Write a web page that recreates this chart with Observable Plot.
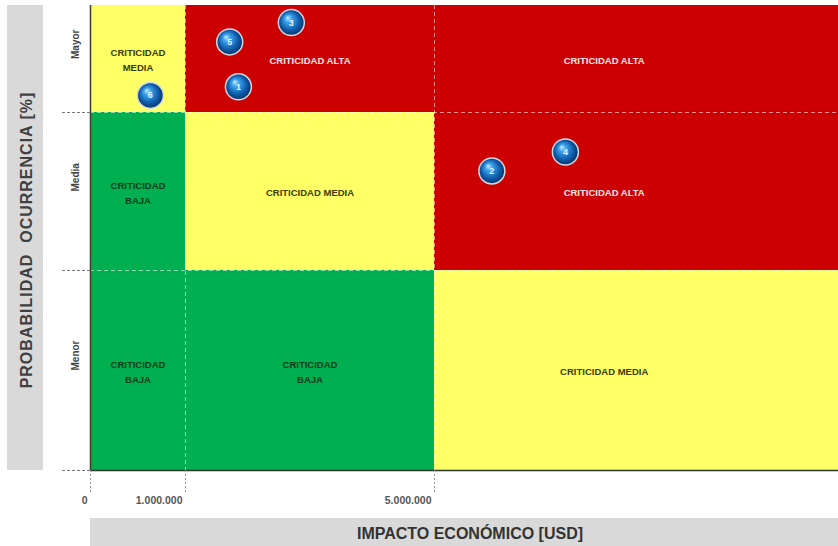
<!DOCTYPE html>
<html>
<head>
<meta charset="utf-8">
<script src="https://cdn.jsdelivr.net/npm/d3@7"></script>
<script src="https://cdn.jsdelivr.net/npm/@observablehq/plot@0.6"></script>
<style>
  html, body { margin: 0; padding: 0; background: #fff; }
  #chart svg { display: block; }
</style>
</head>
<body>
<div id="chart"></div>
<script>
// ---- data ----
const xBreaks = [0, 1000000, 5000000, 10000000];        // impacto económico (USD) column edges
const xTickValues = [0, 1000000, 5000000];
const xTickLabels = ["0", "1.000.000", "5.000.000"];
const levels = ["Menor", "Media", "Mayor"];               // probabilidad de ocurrencia (bottom -> top)
const levelBreaks = [0, 1, 2, 3];
// criticidad per row (Menor, Media, Mayor) and column
const criticidad = [
  ["BAJA", "BAJA", "MEDIA"],
  ["BAJA", "MEDIA", "ALTA"],
  ["MEDIA", "ALTA", "ALTA"]
];
const cellLabels = [
  ["CRITICIDAD\nBAJA", "CRITICIDAD\nBAJA", "CRITICIDAD MEDIA"],
  ["CRITICIDAD\nBAJA", "CRITICIDAD MEDIA", "CRITICIDAD ALTA"],
  ["CRITICIDAD\nMEDIA", "CRITICIDAD ALTA", "CRITICIDAD ALTA"]
];
const labelX = [500000, 3000000, 7100000];
const riskIds = [1, 2, 3, 4, 5, 6];
const riskImpacto = [1850000, 5710000, 2700000, 6620000, 1710000, 630000];
const riskProb = [2.24, 1.63, 2.84, 1.75, 2.66, 2.16];

// ---- derived tables ----
const fillOf = {ALTA: "#cc0000", MEDIA: "#ffff66", BAJA: "#00b050"};
const textOf = {ALTA: "#ffe6e6", MEDIA: "#3b3b00", BAJA: "#0b3d18"};
const cells = [];
criticidad.forEach((row, r) => row.forEach((c, k) => cells.push({
  x1: xBreaks[k], x2: xBreaks[k + 1], y1: levelBreaks[r], y2: levelBreaks[r + 1],
  crit: c, label: cellLabels[r][k], lx: labelX[k], ly: (levelBreaks[r] + levelBreaks[r + 1]) / 2
})));
const levelRows = levels.map((name, i) => ({name, mid: (levelBreaks[i] + levelBreaks[i + 1]) / 2}));
const risks = riskIds.map((id, i) => ({id, x: riskImpacto[i], y: riskProb[i]}));
const xTicks = xTickValues.map((v, i) => ({v, label: xTickLabels[i]}));

const labelStyle = {fontSize: 9.5, fontWeight: "bold", letterSpacing: "0.5px", lineHeight: 1.6};

const chart = Plot.plot({
  width: 838,
  height: 546,
  marginLeft: 90,
  marginRight: 0,
  marginTop: 5,
  marginBottom: 76,
  style: {fontFamily: "'Liberation Sans', Arial, sans-serif", background: "#fff"},
  x: {type: "linear", domain: xBreaks, range: [90, 185, 434, 838]},
  y: {type: "linear", domain: levelBreaks, range: [470, 270, 112, 5]},
  marks: [
    Plot.rect(cells, {x1: "x1", x2: "x2", y1: "y1", y2: "y2", fill: d => fillOf[d.crit]}),
    Plot.ruleX(xTickValues.slice(1), {stroke: "#fff", strokeOpacity: 0.55, strokeDasharray: "4,3"}),
    Plot.ruleY(levelBreaks.slice(1, 3), {stroke: "#fff", strokeOpacity: 0.55, strokeDasharray: "4,3"}),
    Plot.ruleX([0], {stroke: "#3d3d2a", strokeWidth: 1.5}),
    Plot.ruleY([0], {stroke: "#2a3a2a", strokeWidth: 1.5}),
    Plot.text(cells, {x: "lx", y: "ly", text: "label", fill: d => textOf[d.crit], ...labelStyle}),
    // axes
    Plot.axisX({ticks: xTickValues, tickSize: 24, tickFormat: () => "", stroke: "#999", strokeDasharray: "2,2"}),
    Plot.text(xTicks, {x: "v", text: "label", frameAnchor: "bottom", textAnchor: "end", dx: -3, dy: 33,
      fontSize: 10.5, fontWeight: "bold", letterSpacing: "0.6px", fill: "#555"}),
    Plot.axisY({ticks: [0, 1, 2], tickSize: 30, tickFormat: () => "", stroke: "#777", strokeDasharray: "3,2"}),
    Plot.text(levelRows, {y: "mid", text: "name", frameAnchor: "left", dx: -15, rotate: -90,
      fontSize: 10, fontWeight: "bold", letterSpacing: "0.4px", fill: "#444"}),
    // risks
    Plot.dot(risks, {x: "x", y: "y", r: 13, fill: "url(#bubbleGrad)", stroke: "#cfd8e3", strokeWidth: 1.5}),
    Plot.text(risks, {x: "x", y: "y", text: "id", fill: "#eaf3ff", fontSize: 9, fontWeight: "bold"})
  ]
});

// decorations: gradient + gray title bands
const svg = d3.select(chart);
const defs = svg.insert("defs", ":first-child");
const g = defs.append("radialGradient").attr("id", "bubbleGrad")
  .attr("cx", "50%").attr("cy", "50%").attr("r", "55%").attr("fx", "35%").attr("fy", "30%");
[["0%", "#c8ecff"], ["25%", "#3ea4ec"], ["65%", "#0f5eae"], ["100%", "#05284f"]]
  .forEach(([o, c]) => g.append("stop").attr("offset", o).attr("stop-color", c));

const deco = svg.insert("g", "defs + *");
deco.append("rect").attr("x", 7).attr("y", 5).attr("width", 36).attr("height", 465).attr("fill", "#d9d9d9");
deco.append("rect").attr("x", 90).attr("y", 518).attr("width", 748).attr("height", 28).attr("fill", "#d9d9d9");
svg.append("text").attr("transform", "translate(26,240) rotate(-90)")
  .attr("text-anchor", "middle").attr("dominant-baseline", "central")
  .attr("font-size", 16).attr("font-weight", "bold").attr("letter-spacing", "1px").attr("fill", "#404040")
  .text("PROBABILIDAD  OCURRENCIA [%]");
svg.append("text").attr("x", 470).attr("y", 533)
  .attr("text-anchor", "middle").attr("dominant-baseline", "central")
  .attr("font-size", 16).attr("font-weight", "bold").attr("fill", "#333")
  .text("IMPACTO ECONÓMICO [USD]");

document.getElementById("chart").appendChild(chart);
</script>
</body>
</html>
